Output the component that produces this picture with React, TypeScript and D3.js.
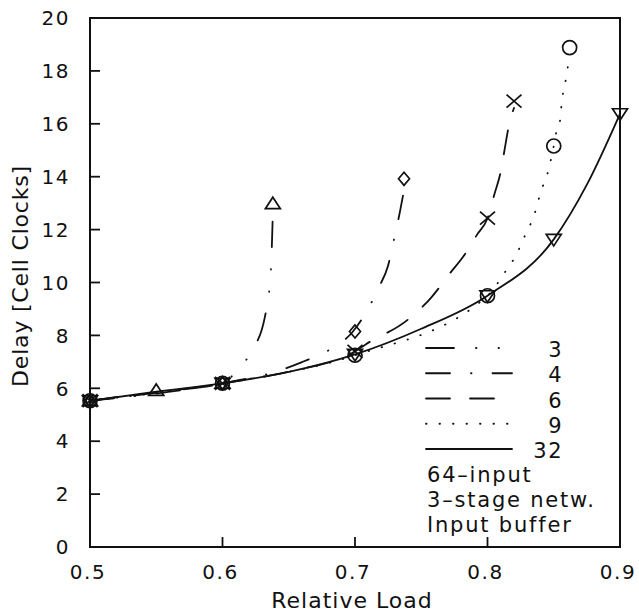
import React from 'react';
import * as d3 from 'd3';

// marker positions (relative load -> delay in cell clocks)
const load3 = [0.5, 0.55, 0.6, 0.638];
const delay3 = [5.53, 5.92, 6.19, 12.98];
const load4 = [0.5, 0.6, 0.7, 0.737];
const delay4 = [5.53, 6.19, 8.15, 13.92];
const load6 = [0.5, 0.6, 0.7, 0.8, 0.82];
const delay6 = [5.53, 6.19, 7.4, 12.43, 16.86];
const load9 = [0.5, 0.6, 0.7, 0.8, 0.85, 0.862];
const delay9 = [5.53, 6.19, 7.25, 9.5, 15.16, 18.88];
const load32 = [0.5, 0.6, 0.7, 0.8, 0.85, 0.9];
const delay32 = [5.53, 6.19, 7.28, 9.5, 11.63, 16.38];

// traced curves
const curveLoad3 = [0.5, 0.55, 0.6, 0.612, 0.622, 0.632, 0.635, 0.6365, 0.6372, 0.6378];
const curveDelay3 = [5.53, 5.87, 6.19, 6.74, 7.4, 8.7, 9.57, 10.44, 11.3, 12.3];
const curveLoad4 = [0.5, 0.6, 0.643, 0.66, 0.673, 0.688, 0.698, 0.718, 0.725, 0.729, 0.734, 0.737];
const curveDelay4 = [5.53, 6.19, 6.67, 6.99, 7.27, 7.67, 8.12, 9.82, 10.64, 11.53, 12.7, 13.5];
const curveLoad6 = [0.5, 0.6, 0.65, 0.7, 0.708, 0.74, 0.757, 0.772, 0.782, 0.792, 0.8, 0.805, 0.81, 0.813, 0.816, 0.82];
const curveDelay6 = [5.53, 6.19, 6.63, 7.4, 7.66, 8.6, 9.4, 10.37, 11.0, 11.8, 12.43, 13.3, 14.2, 15.05, 15.9, 16.6];
const curveLoad9 = [0.5, 0.6, 0.7, 0.8, 0.814, 0.82, 0.825, 0.83, 0.835, 0.838, 0.841, 0.845, 0.85, 0.852, 0.855, 0.856, 0.858, 0.86, 0.862];
const curveDelay9 = [5.53, 6.19, 7.25, 9.5, 10.45, 10.9, 11.4, 11.97, 12.5, 13.04, 13.54, 14.07, 15.16, 15.7, 16.2, 16.85, 17.35, 17.96, 18.6];
const curveLoad32 = [0.5, 0.55, 0.6, 0.65, 0.7, 0.75, 0.8, 0.85, 0.875, 0.9];
const curveDelay32 = [5.53, 5.87, 6.19, 6.62, 7.28, 8.25, 9.5, 11.63, 13.7, 16.38];

const seriesNames = ['3', '4', '6', '9', '32'];
const xTicks = [0.5, 0.6, 0.7, 0.8, 0.9];
const yTicks = [0, 2, 4, 6, 8, 10, 12, 14, 16, 18, 20];
const noteLines = ['64\u2013input', '3\u2013stage netw.', 'Input buffer'];

const W = 639;
const H = 613;
const left = 90, right = 620, top = 18, bottom = 547;
const ink = '#111';
const font = '"DejaVu Sans", sans-serif';

const x = d3.scaleLinear().domain([0.5, 0.9]).range([left, right]);
const y = d3.scaleLinear().domain([0, 20]).range([bottom, top]);

const line = d3
  .line<[number, number]>()
  .x(d => x(d[0]))
  .y(d => y(d[1]))
  .curve(d3.curveMonotoneX);

const zip = (a: number[], b: number[]) => a.map((v, i) => [v, b[i]] as [number, number]);

const markerPath: Record<string, string> = {
  triUp: 'M0,-6.5L7.5,5L-7.5,5Z',
  triDown: 'M0,6.5L7.5,-5L-7.5,-5Z',
  diamond: 'M0,-6.5L5.5,0L0,6.5L-5.5,0Z',
  cross: 'M-7.5,-6.5L7.5,6.5M-7.5,6.5L7.5,-6.5',
  circle: 'M7,0A7,7 0 1,1 -7,0A7,7 0 1,1 7,0Z',
};

const series = [
  { name: seriesNames[0], curve: zip(curveLoad3, curveDelay3), pts: zip(load3, delay3), marker: 'triUp', dash: '28 22 0.5 22 0.5 22' },
  { name: seriesNames[1], curve: zip(curveLoad4, curveDelay4), pts: zip(load4, delay4), marker: 'diamond', dash: '24 21 0.5 21' },
  { name: seriesNames[2], curve: zip(curveLoad6, curveDelay6), pts: zip(load6, delay6), marker: 'cross', dash: '24 20' },
  { name: seriesNames[3], curve: zip(curveLoad9, curveDelay9), pts: zip(load9, delay9), marker: 'circle', dash: '0.5 13' },
  { name: seriesNames[4], curve: zip(curveLoad32, curveDelay32), pts: zip(load32, delay32), marker: 'triDown', dash: 'none' },
];

const App = () => {
  const legX0 = 426, legX1 = 512, legNumX = 563;
  const legBase = d3.scaleLinear().domain([0, 4]).range([357, 458]);
  return (
    <svg
      width={W}
      height={H}
      style={{ position: 'absolute', left: 0, top: 0, background: '#fff' }}
      fontFamily={font}
      fill={ink}
    >
      {/* curves */}
      {series.map(s => (
        <path
          key={'c' + s.name}
          d={line(s.curve) || ''}
          fill="none"
          stroke={ink}
          strokeWidth={1.8}
          strokeLinecap="round"
          strokeDasharray={s.dash}
        />
      ))}

      {/* markers */}
      {series.map(s =>
        s.pts.map((p, i) => (
          <path
            key={'m' + s.name + i}
            d={markerPath[s.marker]}
            transform={`translate(${x(p[0])},${y(p[1])})`}
            fill="none"
            stroke={ink}
            strokeWidth={1.7}
          />
        ))
      )}

      {/* frame */}
      <rect x={left} y={top} width={right - left} height={bottom - top} fill="none" stroke={ink} strokeWidth={2} />

      {/* y ticks */}
      {yTicks.map(t => (
        <g key={'y' + t}>
          {t > 0 && t < 20 && <line x1={left} x2={left + 10} y1={y(t)} y2={y(t)} stroke={ink} strokeWidth={1.8} />}
          <text x={70} y={y(t)} dy="0.36em" textAnchor="end" fontSize={20} letterSpacing={1.5}>
            {t}
          </text>
        </g>
      ))}

      {/* x ticks */}
      {xTicks.map(t => (
        <g key={'x' + t}>
          {t > 0.5 && t < 0.9 && <line x1={x(t)} x2={x(t)} y1={bottom} y2={bottom - 10} stroke={ink} strokeWidth={1.8} />}
          <text x={x(t) - 2} y={579} textAnchor="middle" fontSize={20} letterSpacing={1.5}>
            {d3.format('.1f')(t)}
          </text>
        </g>
      ))}

      {/* axis titles */}
      <text x={352} y={608} textAnchor="middle" fontSize={22} letterSpacing={1}>
        Relative Load
      </text>
      <text transform="translate(28,276) rotate(-90)" textAnchor="middle" fontSize={22} letterSpacing={0.8}>
        Delay [Cell Clocks]
      </text>

      {/* legend */}
      {series.map((s, i) => (
        <g key={'l' + s.name}>
          <line
            x1={legX0}
            x2={legX1}
            y1={legBase(i) - 9}
            y2={legBase(i) - 9}
            stroke={ink}
            strokeWidth={1.8}
            strokeLinecap="round"
            strokeDasharray={s.dash}
          />
          <text x={legNumX} y={legBase(i)} textAnchor="end" fontSize={21} letterSpacing={1.5}>
            {s.name}
          </text>
        </g>
      ))}
      {noteLines.map((t, i) => (
        <text key={'n' + i} x={427} y={482 + i * 25} fontSize={21} letterSpacing={1.8}>
          {t}
        </text>
      ))}
    </svg>
  );
};

export default App;
